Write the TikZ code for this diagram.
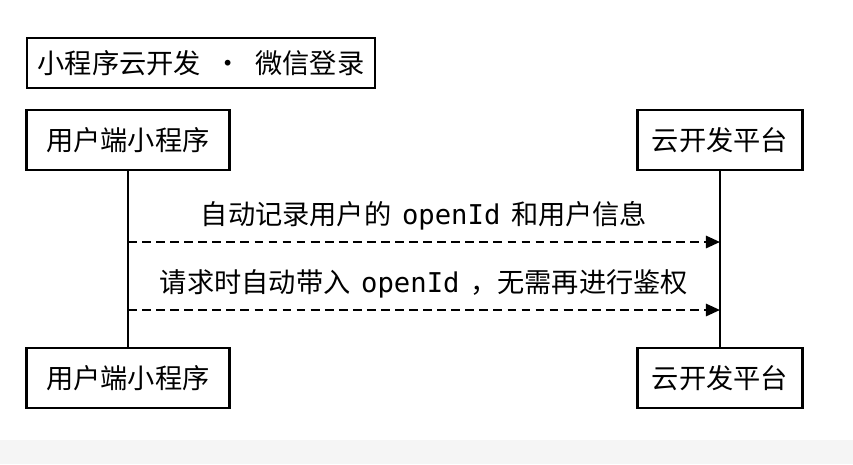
\documentclass[tikz,border=0pt]{standalone}
\usepackage{fontspec}
\setmainfont{Noto Sans CJK SC}
\setmonofont{DejaVu Sans Mono}
\usetikzlibrary{arrows.meta}
\begin{document}
\begin{tikzpicture}[x=0.02cm,y=-0.02cm]
    \tikzstyle{every node}=[font=\fontsize{15.5}{18}\selectfont, text=black]
    \tikzstyle{actor}=[draw=black, line width=1.2pt, fill=white, minimum height=1.2cm, inner xsep=8pt]
    \tikzstyle{life}=[black, line width=1.2pt]
    \tikzstyle{msg}=[black, line width=1.2pt, dashed, dash pattern=on 5pt off 3pt, -{Triangle[length=8pt,width=7pt]}]

    \useasboundingbox (0,0) rectangle (853,464);
    \fill[white] (0,0) rectangle (853,464);
    \fill[gray!8] (0,440) rectangle (853,464);

    \node[draw=black, line width=1.2pt, minimum height=1cm, minimum width=6.96cm] (title) at (201,63) {小程序云开发\enspace ·\enspace 微信登录};

    \node[actor, minimum width=4.06cm] (ua) at (128,140) {用户端小程序};
    \node[actor, minimum width=3.3cm] (ca) at (720,140) {云开发平台};
    \node[actor, minimum width=4.06cm] (ub) at (128,378) {用户端小程序};
    \node[actor, minimum width=3.3cm] (cb) at (720,378) {云开发平台};

    \draw[life] (ua) -- (ub);
    \draw[life] (ca) -- (cb);

    \coordinate (m1s) at (128,242);
    \coordinate (m1e) at (720,242);
    \coordinate (m2s) at (128,310);
    \coordinate (m2e) at (720,310);

    \draw[msg] (m1s) -- node[above=3pt] (l1) {自动记录用户的\ \texttt{\,openId\,}\ 和用户信息} (m1e);
    \draw[msg] (m2s) -- node[above=3pt] (l2) {请求时自动带入\ \texttt{\,openId\,}\ ，无需再进行鉴权} (m2e);
\end{tikzpicture}
\end{document}
